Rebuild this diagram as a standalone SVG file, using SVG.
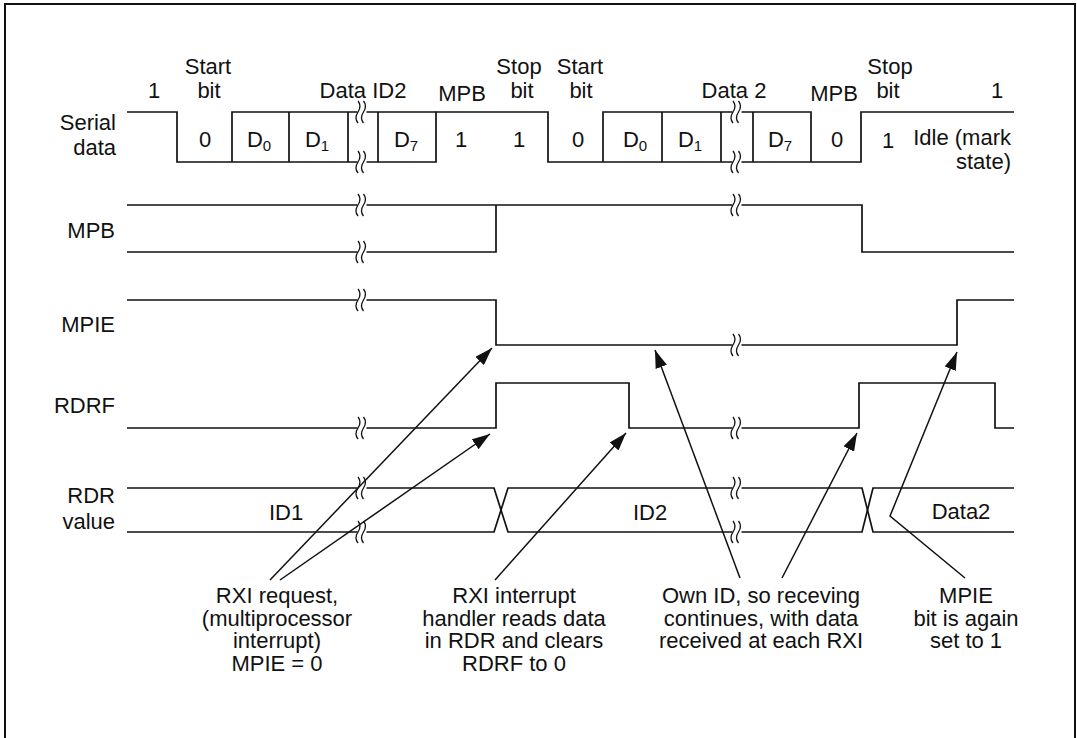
<svg xmlns="http://www.w3.org/2000/svg" xmlns:xlink="http://www.w3.org/1999/xlink" width="1077" height="738" viewBox="0 0 1077 738">
<defs>
<style>
.t{font-family:"Liberation Sans",Arial,Helvetica,sans-serif;font-size:22px;fill:#111}
.m{text-anchor:middle}
.e{text-anchor:end}
.s{font-size:15px}
.w{fill:none;stroke:#111;stroke-width:1.7;stroke-linejoin:miter}
.l{fill:none;stroke:#111;stroke-width:1.5}
.bk{fill:none;stroke:#111;stroke-width:1.3}
</style>
<marker id="ah" viewBox="0 0 18 12" refX="18" refY="6" markerWidth="18" markerHeight="12" markerUnits="userSpaceOnUse" orient="auto">
<path d="M0,0 L18,6 L0,12 z" fill="#111"/>
</marker>
<g id="brk">
<rect x="-4.5" y="-3" width="9" height="6" fill="#fff"/>
<path class="bk" d="M-4,-11 q4,5 0,11 q-4,6 0,11 M1.5,-11 q4,5 0,11 q-4,6 0,11"/>
</g>
</defs>
<rect x="0" y="0" width="1077" height="738" fill="#fff"/>
<rect x="5" y="4" width="1070" height="760" fill="none" stroke="#111" stroke-width="2"/>

<g id="labels">
<text class="t e" x="116" y="130">Serial</text>
<text class="t e" x="116" y="155">data</text>
<text class="t e" x="115" y="238">MPB</text>
<text class="t e" x="115" y="332">MPIE</text>
<text class="t e" x="115" y="413">RDRF</text>
<text class="t e" x="115" y="503">RDR</text>
<text class="t e" x="115" y="529">value</text>
</g>

<g id="header">
<text class="t m" x="154" y="98">1</text>
<text class="t m" x="208" y="74">Start</text>
<text class="t m" x="209" y="98">bit</text>
<text class="t m" x="363" y="98">Data ID2</text>
<text class="t m" x="462" y="101">MPB</text>
<text class="t m" x="519" y="74">Stop</text>
<text class="t m" x="522" y="98">bit</text>
<text class="t m" x="580" y="74">Start</text>
<text class="t m" x="581" y="98">bit</text>
<text class="t m" x="734" y="98">Data 2</text>
<text class="t m" x="834" y="101">MPB</text>
<text class="t m" x="890" y="74">Stop</text>
<text class="t m" x="888" y="98">bit</text>
<text class="t m" x="997" y="98">1</text>
</g>

<g id="serial">
<path class="w" d="M127,112 H177 V162 H436 V112 H548 V162 H861 V112 H1014"/>
<path class="w" d="M232,162 V112 H436 M289,112 V162 M348,112 V162 M378,112 V162"/>
<path class="w" d="M603,162 V112 H811 V162 M662,112 V162 M721,112 V162 M753,112 V162"/>
<use xlink:href="#brk" x="362" y="112"/>
<use xlink:href="#brk" x="362" y="162"/>
<use xlink:href="#brk" x="737" y="112"/>
<use xlink:href="#brk" x="737" y="162"/>
<text class="t m" x="205" y="147">0</text>
<text class="t m" x="259" y="147">D<tspan class="s" dy="4">0</tspan></text>
<text class="t m" x="317" y="147">D<tspan class="s" dy="4">1</tspan></text>
<text class="t m" x="406" y="147">D<tspan class="s" dy="4">7</tspan></text>
<text class="t m" x="461" y="147">1</text>
<text class="t m" x="519" y="147">1</text>
<text class="t m" x="578" y="147">0</text>
<text class="t m" x="635" y="147">D<tspan class="s" dy="4">0</tspan></text>
<text class="t m" x="690" y="147">D<tspan class="s" dy="4">1</tspan></text>
<text class="t m" x="780" y="147">D<tspan class="s" dy="4">7</tspan></text>
<text class="t m" x="837" y="147">0</text>
<text class="t m" x="888" y="148">1</text>
<text class="t e" x="1011" y="145">Idle (mark</text>
<text class="t e" x="1011" y="169">state)</text>
</g>

<g id="mpb">
<path class="w" d="M127,205 H862 V252 H1014"/>
<path class="w" d="M127,252 H496 V205"/>
<use xlink:href="#brk" x="362" y="205"/>
<use xlink:href="#brk" x="362" y="252"/>
<use xlink:href="#brk" x="737" y="205"/>
</g>

<g id="mpie">
<path class="w" d="M127,300 H496 V345 H957 V300 H1014"/>
<use xlink:href="#brk" x="362" y="300"/>
<use xlink:href="#brk" x="737" y="345"/>
</g>

<g id="rdrf">
<path class="w" d="M127,428 H496 V383 H629 V428 H859 V383 H995 V428 H1014"/>
<use xlink:href="#brk" x="362" y="428"/>
<use xlink:href="#brk" x="737" y="428"/>
</g>

<g id="rdr">
<path class="w" d="M127,488 H494 L508,532 H862 L873,488 H1014"/>
<path class="w" d="M127,532 H494 L508,488 H862 L873,532 H1014"/>
<use xlink:href="#brk" x="362" y="488"/>
<use xlink:href="#brk" x="362" y="532"/>
<use xlink:href="#brk" x="737" y="488"/>
<use xlink:href="#brk" x="737" y="532"/>
<text class="t m" x="286" y="520">ID1</text>
<text class="t m" x="650" y="520">ID2</text>
<text class="t m" x="961" y="519">Data2</text>
</g>

<g id="connectors">
<line class="l" x1="270" y1="580" x2="492" y2="348" marker-end="url(#ah)"/>
<line class="l" x1="280" y1="580" x2="490" y2="434" marker-end="url(#ah)"/>
<line class="l" x1="495" y1="580" x2="626" y2="433" marker-end="url(#ah)"/>
<line class="l" x1="740" y1="578" x2="655" y2="350" marker-end="url(#ah)"/>
<line class="l" x1="782" y1="578" x2="857" y2="433" marker-end="url(#ah)"/>
<polyline class="l" points="965,578 890,516 957,352" marker-end="url(#ah)"/>
</g>

<g id="note-rxi-request">
<text class="t m" x="277" y="603">RXI request,</text>
<text class="t m" x="277" y="626">(multiprocessor</text>
<text class="t m" x="277" y="648">interrupt)</text>
<text class="t m" x="277" y="671">MPIE = 0</text>
</g>
<g id="note-rxi-handler">
<text class="t m" x="514" y="603">RXI interrupt</text>
<text class="t m" x="514" y="626">handler reads data</text>
<text class="t m" x="514" y="648">in RDR and clears</text>
<text class="t m" x="514" y="671">RDRF to 0</text>
</g>
<g id="note-own-id">
<text class="t m" x="761" y="603">Own ID, so receving</text>
<text class="t m" x="761" y="626">continues, with data</text>
<text class="t m" x="761" y="648">received at each RXI</text>
</g>
<g id="note-mpie">
<text class="t m" x="966" y="603">MPIE</text>
<text class="t m" x="966" y="626">bit is again</text>
<text class="t m" x="966" y="648">set to 1</text>
</g>
</svg>
